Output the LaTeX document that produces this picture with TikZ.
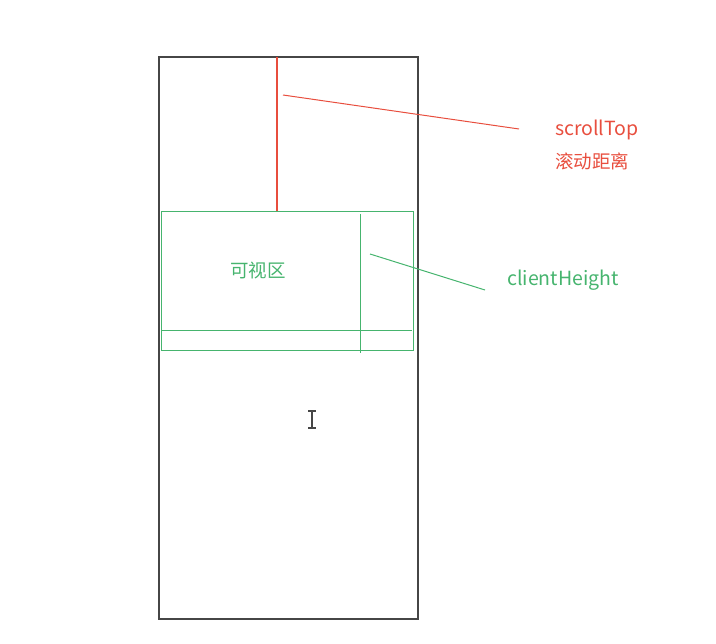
\documentclass[tikz,border=0pt]{standalone}
\usepackage{fontspec}
\newfontfamily\cjk{Noto Sans CJK SC}
\usetikzlibrary{positioning}
\definecolor{scred}{RGB}{232,78,62}
\definecolor{clgreen}{RGB}{70,180,110}
\definecolor{pagegray}{RGB}{70,70,70}

\begin{document}
\begin{tikzpicture}[x=1pt,y=-1pt,
  lbl/.style={font=\cjk\fontsize{19.5}{22}\selectfont,inner sep=0pt},
  hanzi/.style={font=\cjk\fontsize{18.5}{22}\selectfont,inner sep=0pt},
  thin line/.style={line width=1pt}]
  \useasboundingbox (0,0) rectangle (716,644);
  % page
  \draw[pagegray,line width=1.4pt] (159,57) rectangle (418,619);
  % scroll distance
  \coordinate (topmark) at (277,57);
  \coordinate (viewtop) at (277,212);
  \draw[scred,line width=1.1pt] (topmark) -- (viewtop);
  \node[lbl,scred,anchor=base west] (scroll) at (555,136) {scrollTop};
  \node[hanzi,scred,anchor=west] (dist) at (555,161) {滚动距离};
  \coordinate (scrollfrom) at (283,95);
  \coordinate (scrollto) at (519,129);
  \draw[scred,thin line] (scrollfrom) -- (scrollto);
  % visible area
  \draw[clgreen,thin line] (161,212) rectangle (413,351);
  \draw[clgreen,thin line] (161,331) -- (412,331);
  \draw[clgreen,thin line] (360,214) -- (360,353);
  \node[hanzi,clgreen] (view) at (258,271) {可视区};
  \node[lbl,clgreen,anchor=base west] (client) at (507,286) {clientHeight};
  \coordinate (clientfrom) at (370,254);
  \coordinate (clientto) at (485,290);
  \draw[clgreen,thin line] (clientfrom) -- (clientto);
  % text cursor
  \draw[pagegray,line width=1.2pt] (312,411) -- (312,428)
    (308,411) -- (316,411) (308,428) -- (316,428);
\end{tikzpicture}
\end{document}
